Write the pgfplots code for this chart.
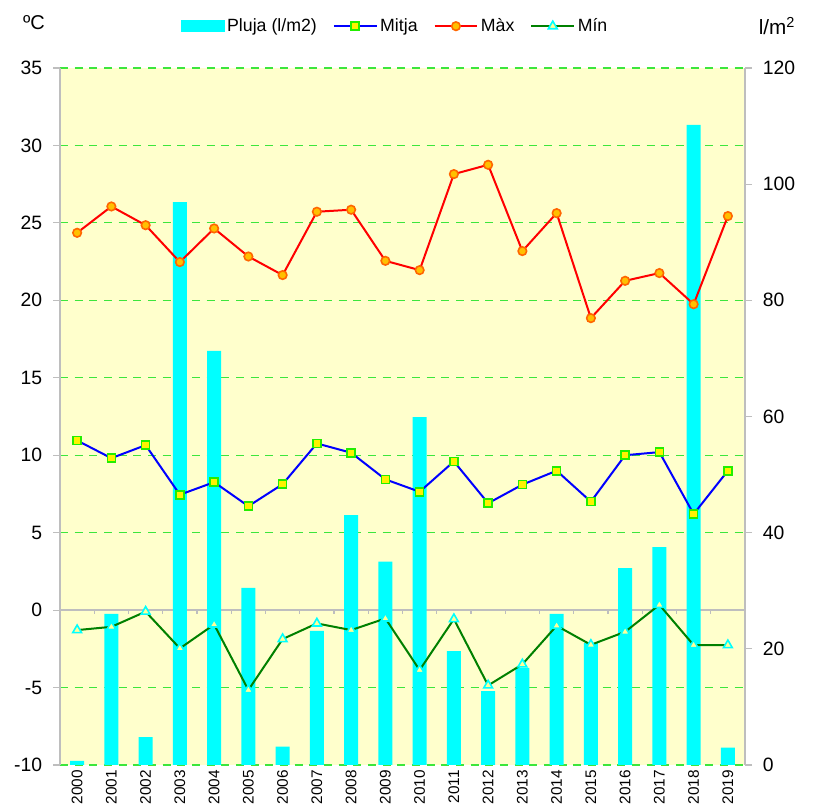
\documentclass[border=0pt]{standalone}
\usepackage{fontspec}
\setmainfont{Liberation Sans}
\usepackage{pgfplots}
\pgfplotsset{compat=1.18}

\definecolor{bgyellow}{HTML}{FFFFCC}
\definecolor{gridgreen}{HTML}{3CE63C}
\definecolor{axisgray}{HTML}{BEBEBE}
\definecolor{barcyan}{HTML}{00FFFF}
\definecolor{mitjaline}{HTML}{0000FF}
\definecolor{mitjaedge}{HTML}{22EE00}
\definecolor{maxline}{HTML}{FF0000}
\definecolor{maxfill}{HTML}{FFC000}
\definecolor{maxedge}{HTML}{FF6600}
\definecolor{minline}{HTML}{008000}
\definecolor{minfill}{HTML}{FFFF99}

\begin{document}
\begin{tikzpicture}
\useasboundingbox (0,0) rectangle (612pt,603.75pt);
\pgfplotsset{
  base/.style={
    at={(45pt,30pt)}, anchor=south west,
    scale only axis, width=513.75pt, height=522.75pt,
    xmin=-0.5, xmax=19.5,
    /pgf/number format/assume math mode=true,
    tick label style={font=\fontsize{14.5}{17}\selectfont},
  },
  sideaxis/.style={
    y axis line style={-, draw=axisgray, line width=0.8pt},
    ytick style={draw=axisgray, line width=0.8pt},
    tick align=outside, major tick length=5.25pt,
    yticklabel style={inner sep=0pt}, yticklabel shift=8pt,
  },
}

% left scale: background, grid, zero line
\begin{axis}[base, sideaxis,
  ymin=-10, ymax=35, ytick={-10,-5,...,35},
  axis x line=none, axis y line*=left, xtick=\empty,
  ymajorgrids,
  grid style={gridgreen, line width=0.9pt, dash pattern=on 6pt off 5pt},
  axis background/.style={fill=bgyellow},
]
\draw[axisgray, line width=1pt] (axis cs:-0.5,0) -- (axis cs:19.5,0);
\pgfplotsinvokeforeach{0.5,1.5,...,18.5}{
  \draw[axisgray, line width=0.8pt]
    (axis cs:#1,0) -- ([yshift=-3pt]axis cs:#1,0);
}
\end{axis}

% right scale: rain bars
\begin{axis}[base, sideaxis,
  ymin=0, ymax=120, ytick={0,20,...,120},
  axis y line*=right, axis x line*=bottom,
  x axis line style={draw=none}, xtick style={draw=none},
  xtick={0,...,19},
  xticklabels={2000,2001,2002,2003,2004,2005,2006,2007,2008,2009,
               2010,2011,2012,2013,2014,2015,2016,2017,2018,2019},
  xticklabel style={rotate=90, anchor=east, inner sep=0pt,
    font=\fontsize{11.5}{13}\selectfont},
  xticklabel shift=-1.5pt,
  ybar, bar width=10.5pt,
]
\addplot[fill=barcyan, draw=none] coordinates {
  (0,0.7) (1,26.0) (2,4.8) (3,96.9) (4,71.3) (5,30.5) (6,3.15) (7,23.1)
  (8,43.0) (9,35.0) (10,59.9) (11,19.6) (12,12.7) (13,16.7) (14,26.0)
  (15,21.0) (16,33.9) (17,37.5) (18,110.2) (19,3.0)
};
\end{axis}

% left scale: temperatures
\begin{axis}[base,
  ymin=-10, ymax=35, hide axis,
  legend columns=4,
  legend style={draw=none, fill=none, at={(0.49,1.06)}, anchor=center,
    font=\fontsize{13.3}{16}\selectfont,
    /tikz/every even column/.append style={column sep=10pt}},
  legend image code/.code={
    \draw[mark repeat=2, mark phase=2]
      plot coordinates {(0pt,0pt) (16pt,0pt) (32pt,0pt)};},
]
\addlegendimage{legend image code/.code={
  \fill[barcyan] (0pt,-4.1pt) rectangle (32pt,4.1pt);}}
\addplot[mitjaline, line width=1.5pt, mark=square*, mark size=3pt,
  mark options={fill=yellow, draw=mitjaedge, line width=1.2pt}] coordinates {
  (0,10.95) (1,9.81) (2,10.65) (3,7.45) (4,8.26) (5,6.71) (6,8.13)
  (7,10.76) (8,10.16) (9,8.44) (10,7.64) (11,9.6) (12,6.9) (13,8.1)
  (14,9.0) (15,7.0) (16,10.0) (17,10.2) (18,6.2) (19,9.0)
};
\addplot[maxline, line width=1.5pt, mark=*, mark size=3.2pt,
  mark options={fill=maxfill, draw=maxedge, line width=1.2pt}] coordinates {
  (0,24.36) (1,26.06) (2,24.85) (3,22.47) (4,24.64) (5,22.83) (6,21.63)
  (7,25.72) (8,25.85) (9,22.55) (10,21.95) (11,28.15) (12,28.75)
  (13,23.18) (14,25.63) (15,18.85) (16,21.26) (17,21.76) (18,19.75)
  (19,25.44)
};
\addplot[minline, line width=1.5pt, mark=triangle*, mark size=3.8pt,
  mark options={fill=minfill, draw=barcyan, line width=1.2pt}] coordinates {
  (0,-1.29) (1,-1.08) (2,-0.1) (3,-2.47) (4,-0.93) (5,-5.16) (6,-1.87)
  (7,-0.86) (8,-1.29) (9,-0.54) (10,-3.87) (11,-0.58) (12,-4.86)
  (13,-3.5) (14,-1.01) (15,-2.24) (16,-1.4) (17,0.34) (18,-2.26)
  (19,-2.26)
};
\legend{Pluja (l/m2), Mitja, Màx, Mín}
\end{axis}

\node[font=\fontsize{15}{17}\selectfont] at (25.5pt,586.5pt) {ºC};
\node[font=\fontsize{15.5}{18}\selectfont] at (582.75pt,584pt) {l/m\textsuperscript{2}};
\end{tikzpicture}
\end{document}
